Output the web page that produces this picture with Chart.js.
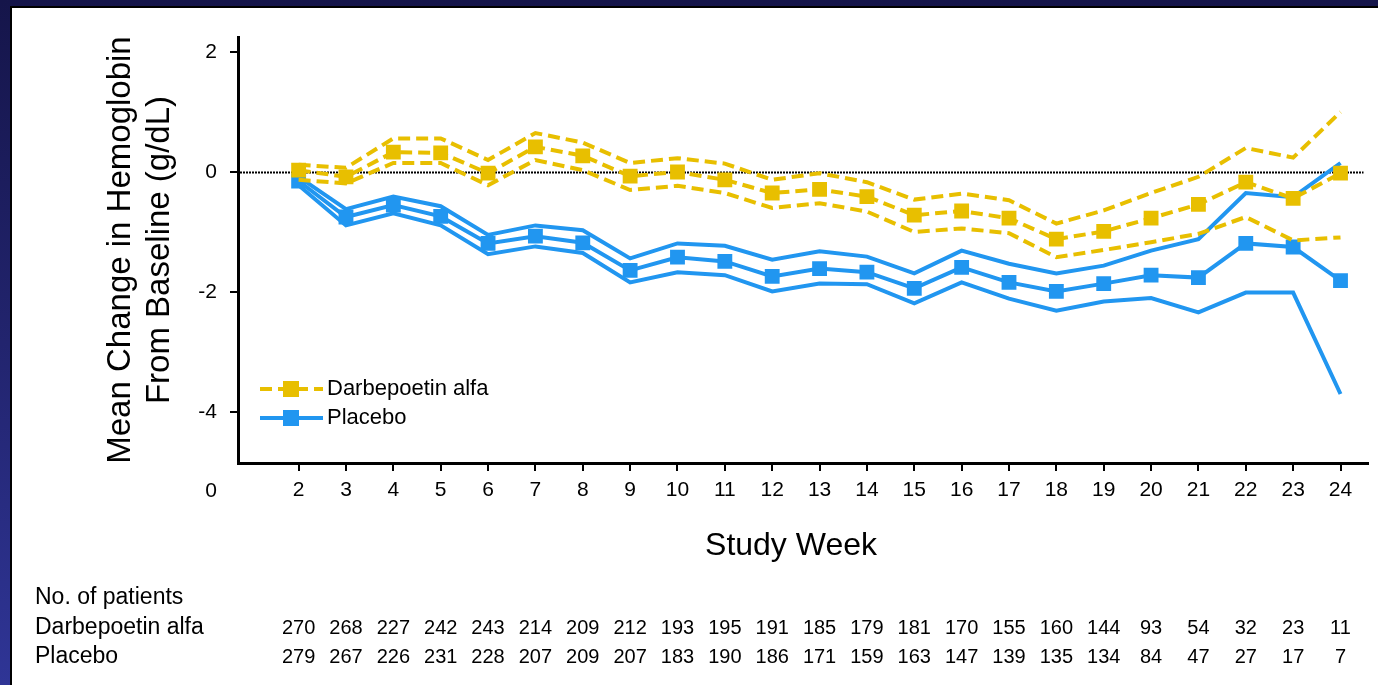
<!DOCTYPE html>
<html>
<head>
<meta charset="utf-8">
<script src="https://cdn.jsdelivr.net/npm/chart.js@4.4.1/dist/chart.umd.min.js"></script>
<style>
  html, body { margin: 0; padding: 0; }
  body {
    width: 1378px; height: 685px; overflow: hidden; position: relative;
    background: linear-gradient(to bottom, #15154a 0%, #22246e 50%, #2f3596 100%);
  }
  #panel {
    position: absolute; left: 10px; top: 6px; width: 1368px; height: 679px;
    border-left: 2px solid #000; border-top: 2px solid #000; background: #fff;
  }
  #chart { display: block; }
</style>
</head>
<body>
<div id="panel"><canvas id="chart" width="1366" height="677"></canvas></div>
<script>
// ===== Data =====
const weeks = [2, 3, 4, 5, 6, 7, 8, 9, 10, 11, 12, 13, 14, 15, 16, 17, 18, 19, 20, 21, 22, 23, 24];

const darbeMean  = [0.03, -0.08, 0.33, 0.32, -0.02, 0.42, 0.27, -0.07, 0.0, -0.13, -0.35, -0.29, -0.41, -0.72, -0.65, -0.77, -1.12, -0.99, -0.77, -0.54, -0.17, -0.44, -0.02];
const darbeUpper = [0.12, 0.07, 0.56, 0.56, 0.2, 0.65, 0.49, 0.15, 0.23, 0.14, -0.13, -0.02, -0.17, -0.46, -0.36, -0.47, -0.86, -0.64, -0.35, -0.08, 0.4, 0.24, 1.0];
const darbeLower = [-0.13, -0.19, 0.15, 0.15, -0.22, 0.2, 0.03, -0.3, -0.23, -0.35, -0.6, -0.52, -0.66, -1.0, -0.94, -1.02, -1.42, -1.3, -1.17, -1.03, -0.75, -1.14, -1.09];

const placeboMean  = [-0.15, -0.75, -0.55, -0.74, -1.19, -1.07, -1.18, -1.64, -1.42, -1.49, -1.74, -1.61, -1.67, -1.94, -1.59, -1.84, -1.99, -1.86, -1.72, -1.76, -1.19, -1.25, -1.81];
const placeboUpper = [-0.08, -0.62, -0.41, -0.57, -1.05, -0.89, -0.97, -1.44, -1.19, -1.23, -1.46, -1.32, -1.41, -1.69, -1.31, -1.53, -1.69, -1.56, -1.31, -1.12, -0.35, -0.42, 0.15];
const placeboLower = [-0.22, -0.89, -0.69, -0.89, -1.37, -1.24, -1.35, -1.84, -1.67, -1.72, -1.99, -1.86, -1.87, -2.19, -1.84, -2.11, -2.31, -2.16, -2.1, -2.34, -2.01, -2.01, -3.7];

const darbeN   = [270, 268, 227, 242, 243, 214, 209, 212, 193, 195, 191, 185, 179, 181, 170, 155, 160, 144, 93, 54, 32, 23, 11];
const placeboN = [279, 267, 226, 231, 228, 207, 209, 207, 183, 190, 186, 171, 159, 163, 147, 139, 135, 134, 84, 47, 27, 17, 7];

const yTicks = [-4, -2, 0, 2];

const YELLOW = '#e8bf00';
const BLUE = '#2196f0';
const FONT = "'Liberation Sans', Arial, Helvetica, sans-serif";
const DASH = [12, 6];

const toPoints = vals => weeks.map((w, i) => ({ x: w, y: vals[i] }));

function lineSet(label, vals, color, dashed, withPoints) {
    return {
        label: label,
        data: toPoints(vals),
        borderColor: color,
        backgroundColor: color,
        borderWidth: 4,
        borderDash: dashed ? DASH : [],
        pointStyle: 'rect',
        pointRadius: withPoints ? 10.5 : 0,
        pointHoverRadius: withPoints ? 10.5 : 0,
        pointBorderWidth: 0,
        tension: 0,
        fill: false
    };
}

// ===== Extra drawing: zero line, legend, x title, patient table =====
const extras = {
    id: 'extras',
    beforeDatasetsDraw(chart) {
        const { ctx, chartArea, scales: { y } } = chart;
        const py = Math.round(y.getPixelForValue(0)) + 0.5;
        ctx.save();
        ctx.strokeStyle = '#000';
        ctx.lineWidth = 2;
        ctx.setLineDash([2, 1]);
        ctx.beginPath();
        ctx.moveTo(chartArea.left + 2, py);
        ctx.lineTo(chartArea.right - 4, py);
        ctx.stroke();
        ctx.restore();
    },
    afterDraw(chart) {
        const { ctx, scales: { x } } = chart;
        ctx.save();
        ctx.fillStyle = '#000';
        ctx.textBaseline = 'middle';

        // origin "0"
        ctx.font = `21px ${FONT}`;
        ctx.textAlign = 'right';
        ctx.fillText('0', 205, 483);

        // x title
        ctx.font = `32px ${FONT}`;
        ctx.textAlign = 'center';
        ctx.fillText('Study Week', 779, 538);

        // legend
        const legendRows = [
            { text: 'Darbepoetin alfa', color: YELLOW, dash: DASH, y: 381 },
            { text: 'Placebo', color: BLUE, dash: [], y: 410 }
        ];
        legendRows.forEach(row => {
            ctx.strokeStyle = row.color;
            ctx.lineWidth = 4;
            ctx.setLineDash(row.dash);
            ctx.beginPath();
            ctx.moveTo(248, row.y);
            ctx.lineTo(311, row.y);
            ctx.stroke();
            ctx.setLineDash([]);
            ctx.fillStyle = row.color;
            ctx.fillRect(271, row.y - 8, 16, 16);
            ctx.fillStyle = '#000';
            ctx.font = `22px ${FONT}`;
            ctx.textAlign = 'left';
            ctx.fillText(row.text, 315, row.y);
        });

        // patient table
        ctx.font = `23px ${FONT}`;
        ctx.textAlign = 'left';
        ctx.fillText('No. of patients', 23, 590);
        ctx.fillText('Darbepoetin alfa', 23, 620);
        ctx.fillText('Placebo', 23, 649);
        ctx.font = `20px ${FONT}`;
        ctx.textAlign = 'center';
        weeks.forEach((w, i) => {
            const px = x.getPixelForValue(w);
            ctx.fillText(String(darbeN[i]), px, 620);
            ctx.fillText(String(placeboN[i]), px, 649);
        });
        ctx.restore();
    }
};

new Chart(document.getElementById('chart'), {
    type: 'line',
    data: {
        datasets: [
            lineSet('Darbepoetin alfa', darbeMean, YELLOW, true, true),
            lineSet('Darbepoetin alfa upper', darbeUpper, YELLOW, true, false),
            lineSet('Darbepoetin alfa lower', darbeLower, YELLOW, true, false),
            lineSet('Placebo', placeboMean, BLUE, false, true),
            lineSet('Placebo upper', placeboUpper, BLUE, false, false),
            lineSet('Placebo lower', placeboLower, BLUE, false, false)
        ]
    },
    options: {
        responsive: false,
        animation: false,
        devicePixelRatio: 1,
        layout: { padding: { top: 29, right: 4, left: 0, bottom: 0 } },
        font: { family: FONT },
        plugins: {
            legend: { display: false },
            tooltip: { enabled: false }
        },
        scales: {
            x: {
                type: 'linear',
                min: 0.72,
                max: 24.57,
                afterBuildTicks: scale => { scale.ticks = weeks.map(v => ({ value: v })); },
                afterFit: scale => { scale.height = 222; },
                border: { display: true, color: '#000', width: 3 },
                grid: { drawOnChartArea: false, drawTicks: true, tickLength: 8, color: '#000', lineWidth: 2 },
                ticks: { color: '#000', font: { family: FONT, size: 21 }, padding: 7, maxRotation: 0, autoSkip: false }
            },
            y: {
                type: 'linear',
                min: -4.85,
                max: 2.25,
                afterBuildTicks: scale => { scale.ticks = yTicks.map(v => ({ value: v })); },
                afterFit: scale => { scale.width = 226; },
                border: { display: true, color: '#000', width: 3 },
                grid: { drawOnChartArea: false, drawTicks: true, tickLength: 8, color: '#000', lineWidth: 2 },
                ticks: { color: '#000', font: { family: FONT, size: 21 }, padding: 13 },
                title: {
                    display: true,
                    text: ['Mean Change in Hemoglobin', 'From Baseline (g/dL)'],
                    color: '#000',
                    font: { family: FONT, size: 33, lineHeight: 1.2 },
                    padding: { top: 89, bottom: 0 }
                }
            }
        }
    },
    plugins: [extras]
});
</script>
</body>
</html>
